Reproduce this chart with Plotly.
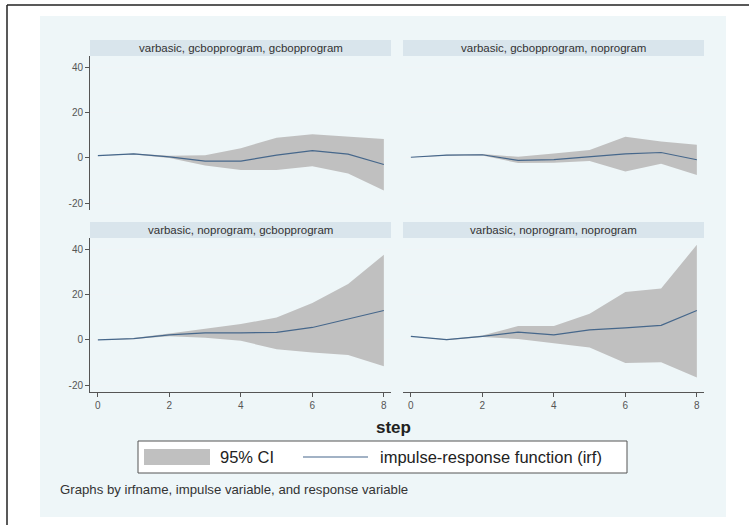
import plotly.graph_objects as go

W, H = 749, 525

steps = [0, 1, 2, 3, 4, 5, 6, 7, 8]
panel_titles = [
    "varbasic, gcbopprogram, gcbopprogram",
    "varbasic, gcbopprogram, noprogram",
    "varbasic, noprogram, gcbopprogram",
    "varbasic, noprogram, noprogram",
]
irf_1 = [1.0, 1.8, 0.5, -1.4, -1.4, 1.2, 3.2, 1.7, -2.9]
upper_1 = [1.0, 2.0, 1.0, 1.2, 4.3, 8.9, 10.4, 9.3, 8.4]
lower_1 = [1.0, 1.5, 0.0, -3.4, -5.3, -5.3, -3.7, -6.9, -14.4]

irf_2 = [0.3, 1.2, 1.4, -1.1, -0.8, 0.5, 1.8, 2.4, -0.8]
upper_2 = [0.3, 1.4, 1.7, 0.5, 2.0, 3.5, 9.3, 7.3, 5.8]
lower_2 = [0.3, 1.0, 1.1, -2.3, -2.1, -1.4, -6.0, -2.6, -7.5]

irf_3 = [0.0, 0.6, 2.2, 3.1, 3.1, 3.3, 5.5, 9.2, 13.0]
upper_3 = [0.0, 0.8, 2.8, 5.0, 7.0, 9.9, 16.3, 24.7, 37.6]
lower_3 = [0.0, 0.4, 1.6, 1.0, -0.4, -4.1, -5.6, -6.7, -11.6]

irf_4 = [1.6, 0.1, 1.6, 3.4, 2.2, 4.4, 5.3, 6.4, 13.0]
upper_4 = [1.6, 0.3, 1.9, 6.1, 6.1, 11.6, 21.2, 22.7, 42.0]
lower_4 = [1.6, -0.1, 1.3, 0.4, -1.5, -3.3, -10.2, -9.9, -16.6]

x_ticks = [0, 2, 4, 6, 8]
y_ticks = [-20, 0, 20, 40]
y_tick_labels = ["-20", "0", "20", "40"]
legend_ci = "95% CI"
legend_irf = "impulse-response function (irf)"
x_title = "step"
note_text = "Graphs by irfname, impulse variable, and response variable"

irfs = [irf_1, irf_2, irf_3, irf_4]
uppers = [upper_1, upper_2, upper_3, upper_4]
lowers = [lower_1, lower_2, lower_3, lower_4]

FONT = "Arial, Liberation Sans, sans-serif"
CI_COLOR = "#c0c0c0"
LINE_COLOR = "#46678b"
BG_REGION = "#eef6f8"
STRIP = "#d9e5ec"
AXIS = "#555"


def px(x):
    return x / W


def py(y):
    return 1 - y / H


# panel boxes in pixels: (x0, x1, y_top, y_bottom)
boxes = [
    (90, 391, 56, 210),
    (403, 704, 56, 210),
    (90, 391, 238, 392),
    (403, 704, 238, 392),
]

fig = go.Figure()
for i in range(4):
    ax = "" if i == 0 else str(i + 1)
    xa, ya = "x" + ax, "y" + ax
    fig.add_trace(go.Scatter(x=steps, y=lowers[i], mode="lines", line=dict(width=0, color=CI_COLOR),
                             xaxis=xa, yaxis=ya, showlegend=False, hoverinfo="skip"))
    fig.add_trace(go.Scatter(x=steps, y=uppers[i], mode="lines", line=dict(width=0, color=CI_COLOR),
                             fill="tonexty", fillcolor=CI_COLOR, xaxis=xa, yaxis=ya,
                             name=legend_ci, showlegend=False))
    fig.add_trace(go.Scatter(x=steps, y=irfs[i], mode="lines", line=dict(width=1.2, color=LINE_COLOR),
                             xaxis=xa, yaxis=ya, name=legend_irf, showlegend=False))

layout = dict(
    width=W, height=H,
    margin=dict(l=0, r=0, t=0, b=0),
    paper_bgcolor="white",
    plot_bgcolor="white",
    font=dict(family=FONT, color="#444"),
    showlegend=False,
)

for i, (x0, x1, yt, yb) in enumerate(boxes):
    ax = "" if i == 0 else str(i + 1)
    bottom = i >= 2
    left = i % 2 == 0
    layout["xaxis" + ax] = dict(
        domain=[px(x0), px(x1)], anchor="y" + ax, range=[-0.22, 8.2],
        tickvals=x_ticks if bottom else [], showticklabels=bottom,
        ticks="outside" if bottom else "", ticklen=4, tickcolor=AXIS,
        showline=bottom, linecolor=AXIS, linewidth=1, showgrid=False, zeroline=False,
        tickfont=dict(size=10, color="#555"),
    )
    layout["yaxis" + ax] = dict(
        domain=[py(yb), py(yt)], anchor="x" + ax, range=[-23, 45],
        tickvals=y_ticks, ticktext=y_tick_labels, showticklabels=left,
        ticks="outside" if left else "", ticklen=4, tickcolor=AXIS,
        showline=left, linecolor=AXIS, linewidth=1,
        showgrid=True, gridcolor="#f0f5f7", gridwidth=1, zeroline=False,
        tickfont=dict(size=10, color="#555"),
    )

shapes = []
# outer border (left + top visible)
shapes.append(dict(type="line", xref="paper", yref="paper", x0=px(7), x1=px(760), y0=py(5), y1=py(5),
                   line=dict(color="#222", width=1.5), layer="below"))
shapes.append(dict(type="line", xref="paper", yref="paper", x0=px(7), x1=px(7), y0=py(5), y1=py(540),
                   line=dict(color="#222", width=1.5), layer="below"))
# graph region background
shapes.append(dict(type="rect", xref="paper", yref="paper", x0=px(40), x1=px(726), y0=py(517), y1=py(16),
                   fillcolor=BG_REGION, line=dict(width=0), layer="below"))
annotations = []
for i, (x0, x1, yt, yb) in enumerate(boxes):
    shapes.append(dict(type="rect", xref="paper", yref="paper", x0=px(x0), x1=px(x1), y0=py(yt), y1=py(yt - 16),
                       fillcolor=STRIP, line=dict(width=0), layer="below"))
    annotations.append(dict(text=panel_titles[i], xref="paper", yref="paper", x=px((x0 + x1) / 2),
                            y=py(yt - 8), showarrow=False, xanchor="center", yanchor="middle",
                            font=dict(size=11.5, color="#333", family=FONT)))

# legend (key box)
shapes.append(dict(type="rect", xref="paper", yref="paper", x0=px(138), x1=px(627), y0=py(473), y1=py(441),
                   fillcolor="white", line=dict(color="#555", width=1)))
shapes.append(dict(type="rect", xref="paper", yref="paper", x0=px(144), x1=px(210), y0=py(465), y1=py(449),
                   fillcolor=CI_COLOR, line=dict(width=0)))
shapes.append(dict(type="line", xref="paper", yref="paper", x0=px(303), x1=px(368), y0=py(457), y1=py(457),
                   line=dict(color=LINE_COLOR, width=1.2)))
annotations.append(dict(text=legend_ci, xref="paper", yref="paper", x=px(218), y=py(457),
                        showarrow=False, xanchor="left", yanchor="middle",
                        font=dict(size=16.5, color="#222", family=FONT)))
annotations.append(dict(text=legend_irf, xref="paper", yref="paper", x=px(378), y=py(457),
                        showarrow=False, xanchor="left", yanchor="middle",
                        font=dict(size=16.5, color="#222", family=FONT)))

annotations.append(dict(text="<b>" + x_title + "</b>", xref="paper", yref="paper", x=px(393), y=py(427),
                        showarrow=False, xanchor="center", yanchor="middle",
                        font=dict(size=17, color="#222", family=FONT)))
annotations.append(dict(text=note_text, xref="paper", yref="paper", x=px(58), y=py(489),
                        showarrow=False, xanchor="left", yanchor="middle",
                        font=dict(size=13.2, color="#333", family=FONT)))

layout["shapes"] = shapes
layout["annotations"] = annotations
fig.update_layout(**layout)
fig.write_html("out.html", config={"displayModeBar": False},
               post_script="document.body.style.margin='0';document.body.style.padding='0';")
